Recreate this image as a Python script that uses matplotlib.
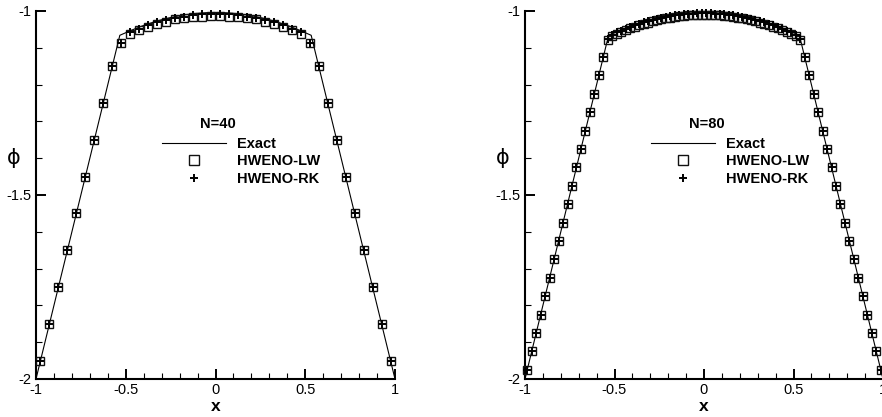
import numpy as np
import matplotlib
matplotlib.use("Agg")
import matplotlib.pyplot as plt
from matplotlib.ticker import MultipleLocator, FixedLocator, FixedFormatter

plt.rcParams['font.family'] = ['Liberation Sans', 'DejaVu Sans']
plt.rcParams['axes.unicode_minus'] = False

# ---------------- data ----------------
exact_x = [-1.0, -0.533, -0.5, -0.45, -0.4, -0.35, -0.3, -0.25, -0.2, -0.15, -0.1, -0.05, 0.0,
           0.05, 0.1, 0.15, 0.2, 0.25, 0.3, 0.35, 0.4, 0.45, 0.5, 0.533, 1.0]
exact_y = [-2.0, -1.066, -1.059, -1.0486, -1.0392, -1.0310, -1.0238, -1.0178, -1.0128, -1.0090, -1.0062, -1.0046, -1.004,
           -1.0046, -1.0062, -1.0090, -1.0128, -1.0178, -1.0238, -1.0310, -1.0392, -1.0486, -1.059, -1.066, -2.0]

x40 = np.linspace(-0.975, 0.975, 40)
lw40 = [-1.95, -1.85, -1.75, -1.65, -1.55, -1.45, -1.35, -1.25, -1.15, -1.088,
        -1.063, -1.052, -1.043, -1.035, -1.029, -1.023, -1.020, -1.017, -1.015, -1.014,
        -1.014, -1.015, -1.017, -1.020, -1.023, -1.029, -1.035, -1.043, -1.052, -1.063,
        -1.088, -1.15, -1.25, -1.35, -1.45, -1.55, -1.65, -1.75, -1.85, -1.95]
rk40 = [-1.95, -1.85, -1.75, -1.65, -1.55, -1.45, -1.35, -1.25, -1.15, -1.086,
        -1.058, -1.048, -1.039, -1.031, -1.025, -1.019, -1.015, -1.011, -1.009, -1.008,
        -1.008, -1.009, -1.011, -1.015, -1.019, -1.025, -1.031, -1.039, -1.048, -1.058,
        -1.086, -1.15, -1.25, -1.35, -1.45, -1.55, -1.65, -1.75, -1.85, -1.95]

x80 = np.linspace(-0.9875, 0.9875, 80)
lw80 = [-1.975, -1.925, -1.875, -1.825, -1.775, -1.725, -1.675, -1.625, -1.575, -1.525,
        -1.475, -1.425, -1.375, -1.325, -1.275, -1.225, -1.175, -1.125, -1.079, -1.068,
        -1.062, -1.057, -1.052, -1.047, -1.043, -1.039, -1.035, -1.032, -1.028, -1.025,
        -1.022, -1.020, -1.018, -1.016, -1.014, -1.013, -1.012, -1.011, -1.010, -1.010,
        -1.010, -1.010, -1.011, -1.012, -1.013, -1.014, -1.016, -1.018, -1.020, -1.022,
        -1.025, -1.028, -1.032, -1.035, -1.039, -1.043, -1.047, -1.052, -1.057, -1.062,
        -1.068, -1.079, -1.125, -1.175, -1.225, -1.275, -1.325, -1.375, -1.425, -1.475,
        -1.525, -1.575, -1.625, -1.675, -1.725, -1.775, -1.825, -1.875, -1.925, -1.975]
rk80 = [-1.975, -1.925, -1.875, -1.825, -1.775, -1.725, -1.675, -1.625, -1.575, -1.525,
        -1.475, -1.425, -1.375, -1.325, -1.275, -1.225, -1.175, -1.125, -1.077, -1.065,
        -1.058, -1.053, -1.048, -1.043, -1.039, -1.035, -1.031, -1.028, -1.024, -1.021,
        -1.018, -1.016, -1.014, -1.012, -1.010, -1.009, -1.008, -1.007, -1.006, -1.006,
        -1.006, -1.006, -1.007, -1.008, -1.009, -1.010, -1.012, -1.014, -1.016, -1.018,
        -1.021, -1.024, -1.028, -1.031, -1.035, -1.039, -1.043, -1.048, -1.053, -1.058,
        -1.065, -1.077, -1.125, -1.175, -1.225, -1.275, -1.325, -1.375, -1.425, -1.475,
        -1.525, -1.575, -1.625, -1.675, -1.725, -1.775, -1.825, -1.875, -1.925, -1.975]

panels = [("N=40", x40, lw40, rk40), ("N=80", x80, lw80, rk80)]
xticks = [-1, -0.5, 0, 0.5, 1]
xticklabels = ["-1", "-0.5", "0", "0.5", "1"]
yticks = [-2, -1.5, -1]
yticklabels = ["-2", "-1.5", "-1"]

# ---------------- figure ----------------
W, H = 882, 417
fig = plt.figure(figsize=(W / 100, H / 100), dpi=100)
axes_px = [(36, 395), (525, 883)]
y_top, y_bot = 11, 379

for (title, xs, lw, rk), (xl, xr) in zip(panels, axes_px):
    ax = fig.add_axes([xl / W, 1 - y_bot / H, (xr - xl) / W, (y_bot - y_top) / H])
    ax.set_xlim(-1, 1)
    ax.set_ylim(-2, -1)
    l1, = ax.plot(exact_x, exact_y, color='black', lw=0.8, label='Exact', zorder=2)
    l2, = ax.plot(xs, lw, ls='none', marker='s', ms=6.2, mfc='none', mec='#111111',
                  mew=1.0, label='HWENO-LW', zorder=3, clip_on=False)
    l3, = ax.plot(xs, rk, ls='none', marker='+', ms=5.2, mec='black',
                  mew=1.4, label='HWENO-RK', zorder=4, clip_on=False)

    for s in ['top', 'right']:
        ax.spines[s].set_visible(False)
    for s in ['left', 'bottom']:
        ax.spines[s].set_linewidth(1.5)

    ax.xaxis.set_major_locator(FixedLocator(xticks))
    ax.xaxis.set_major_formatter(FixedFormatter(xticklabels))
    ax.yaxis.set_major_locator(FixedLocator(yticks))
    ax.yaxis.set_major_formatter(FixedFormatter(yticklabels))
    ax.xaxis.set_minor_locator(MultipleLocator(0.1))
    ax.yaxis.set_minor_locator(MultipleLocator(0.1))
    ax.tick_params(which='major', direction='in', length=7.2, width=1.4,
                   labelsize=10.5, pad=3, top=False, right=False)
    ax.tick_params(which='minor', direction='in', length=4, width=0.8,
                   top=False, right=False)

    ax.set_xlabel('x', fontsize=12.5, fontweight='bold', labelpad=1.0)

    leg = ax.legend(handles=[l1, l2, l3], loc='upper left',
                    bbox_to_anchor=(0.351, 0.658), frameon=False,
                    prop={'weight': 'bold', 'size': 10.5},
                    handlelength=4.4, handletextpad=0.75, labelspacing=0.24,
                    borderpad=0, borderaxespad=0, markerscale=1.15)
    ax.text(0.508, 0.693, title, transform=ax.transAxes, ha='center', va='center',
            fontsize=10.5, fontweight='bold')

    fig.text((xl - 22) / W, 1 - 158 / H, 'ϕ', ha='center', va='center',
             fontsize=15, family=['DejaVu Sans'])

fig.savefig('out.png', dpi=100)
